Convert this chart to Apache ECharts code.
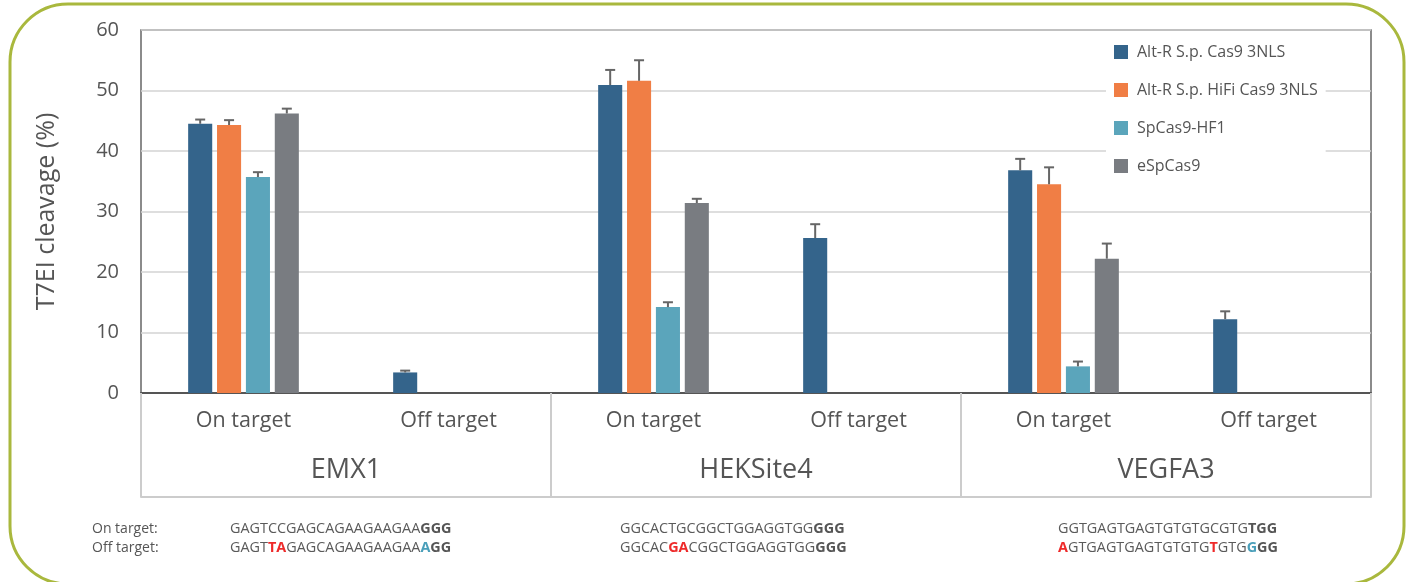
<!DOCTYPE html>
<html>
<head>
<meta charset="utf-8">
<script src="https://cdn.jsdelivr.net/npm/echarts@6/dist/echarts.min.js"></script>
<style>
html,body{margin:0;padding:0;background:#fff;}
#c{width:1408px;height:582px;}
</style>
</head>
<body>
<div id="c"></div>
<script>
// ---- data ----
const categories = ['On target', 'Off target', 'On target', 'Off target', 'On target', 'Off target'];
const groups = ['EMX1', 'HEKSite4', 'VEGFA3'];
const seriesNames = ['Alt-R S.p. Cas9 3NLS', 'Alt-R S.p. HiFi Cas9 3NLS', 'SpCas9-HF1', 'eSpCas9'];
const cas9 = [44.5, 3.4, 50.9, 25.6, 36.8, 12.2];
const hifi = [44.3, null, 51.6, null, 34.5, null];
const hf1 = [35.7, null, 14.2, null, 4.4, null];
const esp = [46.2, null, 31.4, null, 22.2, null];
const cas9Err = [0.7, 0.3, 2.5, 2.3, 1.9, 1.3];
const hifiErr = [0.8, null, 3.4, null, 2.8, null];
const hf1Err = [0.8, null, 0.8, null, 0.8, null];
const espErr = [0.8, null, 0.7, null, 2.5, null];
const yTicks = [0, 10, 20, 30, 40, 50, 60];
const seqOn = [
  [['n','GAGTCCGAGCAGAAGAAGAA'],['b','GGG']],
  [['n','GGCACTGCGGCTGGAGGTGG'],['b','GGG']],
  [['n','GGTGAGTGAGTGTGTGCGTG'],['b','TGG']]
];
const seqOff = [
  [['n','GAGT'],['r','TA'],['n','GAGCAGAAGAAGAA'],['c','A'],['b','GG']],
  [['n','GGCAC'],['r','GA'],['n','CGGCTGGAGGTGG'],['b','GGG']],
  [['r','A'],['n','GTGAGTGAGTGTGTG'],['r','T'],['n','GTG'],['c','G'],['b','GG']]
];

const colors = ['#34648b', '#f07e45', '#5ba5bb', '#797c81'];
const values = [cas9, hifi, hf1, esp];
const errs = [cas9Err, hifiErr, hf1Err, espErr];

const FONT = '"Open Sans", "Noto Sans", sans-serif';
const CAT_GAP = 0.46, BAR_GAP = 0.2;

const errData = [];
values.forEach((arr, si) => arr.forEach((v, ci) => {
  if (v != null && errs[si][ci] != null) errData.push([ci, v, v + errs[si][ci], si]);
}));

const chart = echarts.init(document.getElementById('c'));

function seqText(parts) {
  return parts.map(p => '{' + p[0] + '|' + p[1] + '}').join('');
}
const SEQ_FS = 14.4;
const rich = {
  n: {fontFamily: FONT, fontSize: SEQ_FS, fill: '#5a5a5a'},
  b: {fontFamily: FONT, fontSize: SEQ_FS, fontWeight: 'bold', fill: '#555'},
  r: {fontFamily: FONT, fontSize: SEQ_FS, fontWeight: 'bold', fill: '#ee2a2a'},
  c: {fontFamily: FONT, fontSize: SEQ_FS, fontWeight: 'bold', fill: '#4a9fba'}
};
const seqX = [230, 620, 1058];
const graphics = [
  {type: 'rect', z: -10, silent: true, shape: {x: 10, y: 4, width: 1394, height: 580, r: 58},
   style: {fill: 'none', stroke: '#a9b83d', lineWidth: 3}},
  {type: 'text', x: 92, y: 529, style: {text: 'On target:', font: '14px ' + FONT, fill: '#555', verticalAlign: 'middle'}},
  {type: 'text', x: 92, y: 548, style: {text: 'Off target:', font: '14px ' + FONT, fill: '#555', verticalAlign: 'middle'}}
];
seqOn.forEach((s, i) => {
  graphics.push({type: 'text', x: seqX[i], y: 529, style: {text: seqText(s), rich: rich, verticalAlign: 'middle'}});
});
seqOff.forEach((s, i) => {
  graphics.push({type: 'text', x: seqX[i], y: 548, style: {text: seqText(s), rich: rich, verticalAlign: 'middle'}});
});

const series = values.map((arr, si) => ({
  name: seriesNames[si],
  type: 'bar',
  xAxisIndex: 0,
  data: arr,
  barCategoryGap: (CAT_GAP * 100) + '%',
  barGap: (BAR_GAP * 100) + '%',
  itemStyle: {color: colors[si]},
  z: 2
}));
series.push({
  type: 'custom',
  xAxisIndex: 0,
  z: 3,
  silent: true,
  data: errData,
  encode: {x: 0, y: [1, 2]},
  renderItem: function (params, api) {
    const ci = api.value(0), si = api.value(3);
    const base = api.coord([ci, api.value(1)]);
    const top = api.coord([ci, api.value(2)]);
    const band = api.size([1, 0])[0];
    const n = 4;
    const w = band * (1 - CAT_GAP) / (n + (n - 1) * BAR_GAP);
    const total = n * w + (n - 1) * BAR_GAP * w;
    const x = base[0] - total / 2 + si * w * (1 + BAR_GAP) + w / 2;
    const cap = 5;
    const st = {stroke: '#666', lineWidth: 2};
    return {type: 'group', children: [
      {type: 'line', shape: {x1: x, y1: base[1], x2: x, y2: top[1]}, style: st},
      {type: 'line', shape: {x1: x - cap, y1: top[1], x2: x + cap, y2: top[1]}, style: st}
    ]};
  }
});

chart.setOption({
  animation: false,
  color: colors,
  textStyle: {fontFamily: FONT},
  grid: {left: 141, right: 37, top: 30, bottom: 189, show: true, borderColor: '#666', borderWidth: 1.5, containLabel: false},
  legend: {
    orient: 'vertical', left: 1106, top: 36,
    data: seriesNames,
    icon: 'rect', itemWidth: 14, itemHeight: 14, itemGap: 22,
    backgroundColor: '#fff', padding: [8, 8, 8, 8],
    textStyle: {fontFamily: FONT, fontSize: 16, color: '#555', padding: [0, 0, 0, 4]}
  },
  xAxis: [
    {type: 'category', data: categories, position: 'bottom',
     axisLine: {show: true, lineStyle: {color: '#555', width: 2}},
     axisTick: {show: false},
     axisLabel: {fontFamily: FONT, fontSize: 21.5, color: '#555', margin: 17, interval: 0},
     splitLine: {show: false}},
    {type: 'category', data: groups, position: 'bottom', gridIndex: 0,
     axisLine: {show: false},
     axisTick: {show: true, length: 104, lineStyle: {color: '#ccc', width: 2}, interval: 0},
     axisLabel: {fontFamily: FONT, fontSize: 27, color: '#555', margin: 64, interval: 0},
     splitLine: {show: false}},
    {type: 'category', data: groups, position: 'bottom', gridIndex: 0, offset: 104,
     axisLine: {show: true, lineStyle: {color: '#ccc', width: 2}},
     axisTick: {show: false}, axisLabel: {show: false}, splitLine: {show: false}}
  ],
  yAxis: {
    type: 'value', min: yTicks[0], max: yTicks[yTicks.length - 1], interval: 10,
    name: 'T7EI cleavage (%)', nameLocation: 'middle', nameGap: 82,
    nameTextStyle: {fontFamily: FONT, fontSize: 25, color: '#555'},
    axisLine: {show: false}, axisTick: {show: false},
    axisLabel: {fontFamily: FONT, fontSize: 20, color: '#555', margin: 22},
    splitLine: {lineStyle: {color: '#d3d3d3', width: 1.5}}
  },
  graphic: graphics,
  series: series
});
</script>
</body>
</html>
